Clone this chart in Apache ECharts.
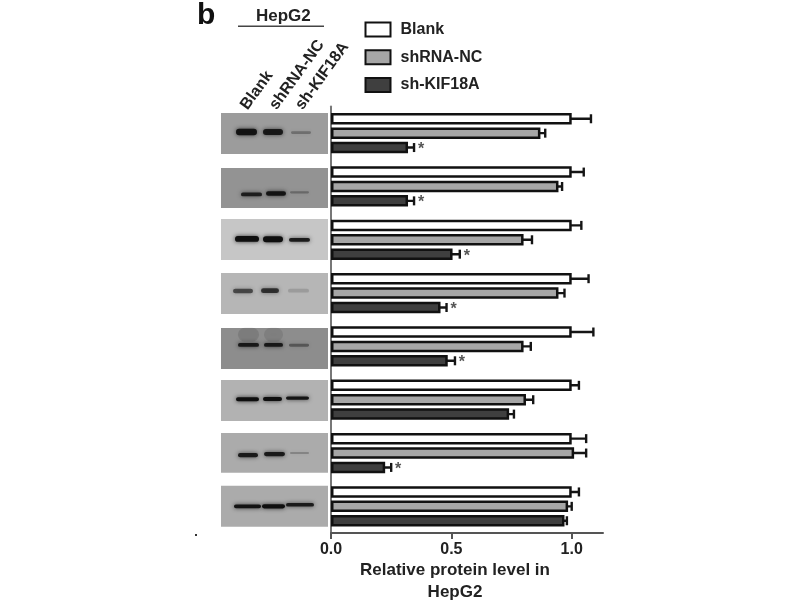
<!DOCTYPE html>
<html><head><meta charset="utf-8">
<style>html,body{margin:0;padding:0;background:#fff}#c{width:800px;height:600px;filter:blur(0.7px)}</style>
<script src="https://cdn.jsdelivr.net/npm/echarts@6/dist/echarts.min.js"></script>
</head><body><div id="c"></div>
<script>
const rows = ['1','2','3','4','5','6','7','8'];
const seriesNames = ['Blank','shRNA-NC','sh-KIF18A'];
const blankVals = [1.0,1.0,1.0,1.0,1.0,1.0,1.0,1.0];
const blankHigh = [1.08,1.05,1.04,1.07,1.09,1.03,1.06,1.03];
const ncVals = [0.87,0.945,0.80,0.945,0.80,0.81,1.01,0.985];
const ncHigh = [0.89,0.96,0.835,0.97,0.83,0.84,1.06,1.0];
const kifVals = [0.32,0.32,0.505,0.455,0.485,0.74,0.225,0.97];
const kifHigh = [0.345,0.345,0.535,0.48,0.515,0.76,0.25,0.98];
const kifMark = ['*','*','*','*','*','','*',''];
const xTicks = [0,0.5,1.0];
// western-blot panels: [top, bottom, grey]  in row units
const blotPanels = [[.122,.891,'#9c9c9c'],[1.153,1.903,'#939393'],[2.109,2.878,'#c6c6c6'],[3.122,3.891,'#b6b6b6'],[4.153,4.922,'#8d8d8d'],[5.128,5.897,'#b2b2b2'],[6.122,6.872,'#ababab'],[7.116,7.884,'#ababab']];
// blot bands: [start, end, row position, darkness, thickness] in lane units
const blotBands = [
 [15,36,.478,.95,.12],[42,62,.478,.9,.11],[70,90,.49,.3,.05],
 [20,41,1.65,.85,.07],[45,65,1.63,.95,.085],[69,88,1.61,.3,.04],
 [14,38,2.484,1,.11],[42,62,2.49,1,.115],[68,89,2.5,.9,.07],
 [12,32,3.459,.6,.085],[40,58,3.455,.75,.09],[67,88,3.455,.15,.07],
 [17,38,4.472,.9,.07],[43,62,4.472,.9,.07],[68,88,4.48,.4,.055],
 [17,38,4.28,.12,.26],[43,62,4.28,.1,.26],
 [15,38,5.49,1,.075],[42,61,5.485,1,.075],[65,88,5.47,.95,.065],
 [17,37,6.54,.9,.08],[43,64,6.52,.9,.08],[69,88,6.5,.3,.03],
 [13,40,7.5,.95,.07],[41,64,7.5,1,.08],[65,93,7.47,.9,.07]
];
const axisName = 'Relative protein level in\nHepG2';

function errSeries(name, high, marks, idx){
  return {type:'custom', name:name+' err', xAxisIndex:0, yAxisIndex:0, z:2,
    data: high.map((h,i)=>[h,i]),
    renderItem:(p,api)=>{
      const row=api.value(1), hi=api.value(0);
      const band=api.size([0,1])[1];
      const off=(idx-1)*band*0.27;
      const c0=api.coord([0,row]), c=api.coord([hi,row]);
      const y=c[1]+off;
      const kids=[
        {type:'line',shape:{x1:c0[0],y1:y,x2:c[0],y2:y},style:{stroke:'#151515',lineWidth:2.4}},
        {type:'line',shape:{x1:c[0],y1:y-4.5,x2:c[0],y2:y+4.5},style:{stroke:'#151515',lineWidth:2.4}}
      ];
      const m=marks?marks[p.dataIndex]:'';
      if(m) kids.push({type:'text',style:{x:c[0]+7,y:y+2,text:m,fill:'#555',font:'bold 16px "Liberation Sans"',textAlign:'center',textVerticalAlign:'middle'}});
      return {type:'group',children:kids};
    }};
}
function barSeries(name, vals, color){
  return {type:'bar',name,data:vals,xAxisIndex:0,yAxisIndex:0,barWidth:11.5,barGap:'25%',z:3,
    itemStyle:{color,borderColor:'#111',borderWidth:2.5}};
}
const chart=echarts.init(document.getElementById('c'),null,{renderer:'canvas'});
chart.setOption({
  animation:false,
  backgroundColor:'#fff',
  legend:{data:seriesNames,left:364.5,top:21.5,padding:0,orient:'vertical',icon:'rect',itemWidth:25,itemHeight:14,itemGap:11.7,
    textStyle:{fontSize:16,padding:[0,0,0,5],fontFamily:'Liberation Sans',fontWeight:'bold',color:'#222'}},
  grid:[{left:331,width:272,top:106.5,height:426.5,outerBoundsMode:'none'},{left:221,width:107,top:106.5,height:426.5,outerBoundsMode:'none'}],
  xAxis:[
   {type:'value',gridIndex:0,min:0,max:1.13,interval:0.5,
    axisLine:{show:true,lineStyle:{color:'#555',width:2}},
    axisTick:{show:true,length:6,customValues:xTicks,lineStyle:{color:'#555',width:2}},
    splitLine:{show:false},
    axisLabel:{customValues:xTicks,formatter:v=>v.toFixed(1),margin:9,fontSize:16,fontFamily:'Liberation Sans',fontWeight:'bold',color:'#222'},
    name:axisName,nameLocation:'middle',nameGap:26,nameMoveOverlap:false,
    nameTextStyle:{fontSize:17,fontFamily:'Liberation Sans',fontWeight:'bold',color:'#222',lineHeight:22,padding:[0,24,0,0]}},
   {type:'value',gridIndex:1,min:0,max:107,show:false}
  ],
  yAxis:[
   {type:'category',gridIndex:0,data:rows,inverse:true,axisLabel:{show:false},axisTick:{show:false},
    axisLine:{show:true,lineStyle:{color:'#777',width:2}}},
   {type:'value',gridIndex:1,min:0,max:8,inverse:true,show:false}
  ],
  series:[
   {type:'custom',xAxisIndex:1,yAxisIndex:1,z:1,silent:true,data:blotPanels.map(b=>[0,b[0],107,b[1]]),
    renderItem:(p,api)=>{
      const a=api.coord([api.value(0),api.value(1)]),b=api.coord([api.value(2),api.value(3)]);
      return {type:'rect',shape:{x:a[0],y:a[1],width:b[0]-a[0],height:b[1]-a[1]},style:{fill:blotPanels[p.dataIndex][2]}};
    }},
   {type:'custom',xAxisIndex:1,yAxisIndex:1,z:2,silent:true,data:blotBands,
    renderItem:(p,api)=>{
      const d=blotBands[p.dataIndex];
      const a=api.coord([d[0],d[2]-d[4]/2]),b=api.coord([d[1],d[2]+d[4]/2]);
      const h=b[1]-a[1];
      return {type:'rect',shape:{x:a[0],y:a[1],width:b[0]-a[0],height:h,r:h/2},
        style:{fill:'rgba(15,15,15,'+d[3]+')',shadowBlur:4,shadowColor:'rgba(15,15,15,'+d[3]*0.8+')'}};
    }},
   barSeries(seriesNames[0],blankVals,'#ffffff'),
   barSeries(seriesNames[1],ncVals,'#a6a6a6'),
   barSeries(seriesNames[2],kifVals,'#3f3f3f'),
   errSeries(seriesNames[0],blankHigh,null,0),
   errSeries(seriesNames[1],ncHigh,null,1),
   errSeries(seriesNames[2],kifHigh,kifMark,2)
  ],
  graphic:[
   {type:'text',left:197,top:1,style:{text:'b',font:'bold 30px "Liberation Sans"',fill:'#111'}},
   {type:'text',left:256,top:8,style:{text:'HepG2',font:'bold 17px "Liberation Sans"',fill:'#222'}},
   {type:'rect',left:238,top:25.5,shape:{width:86,height:1.6},style:{fill:'#444'}},
   {type:'text',x:244,y:108,rotation:Math.PI*54/180,style:{text:'Blank',font:'bold 16px "Liberation Sans"',fill:'#222',textVerticalAlign:'middle'}},
   {type:'text',x:273,y:108,rotation:Math.PI*54/180,style:{text:'shRNA-NC',font:'bold 16px "Liberation Sans"',fill:'#222',textVerticalAlign:'middle'}},
   {type:'text',x:299,y:108,rotation:Math.PI*54/180,style:{text:'sh-KIF18A',font:'bold 16px "Liberation Sans"',fill:'#222',textVerticalAlign:'middle'}},
   {type:'rect',left:195,top:534,shape:{width:2,height:2},style:{fill:'#333'}}
  ]
});
</script></body></html>
